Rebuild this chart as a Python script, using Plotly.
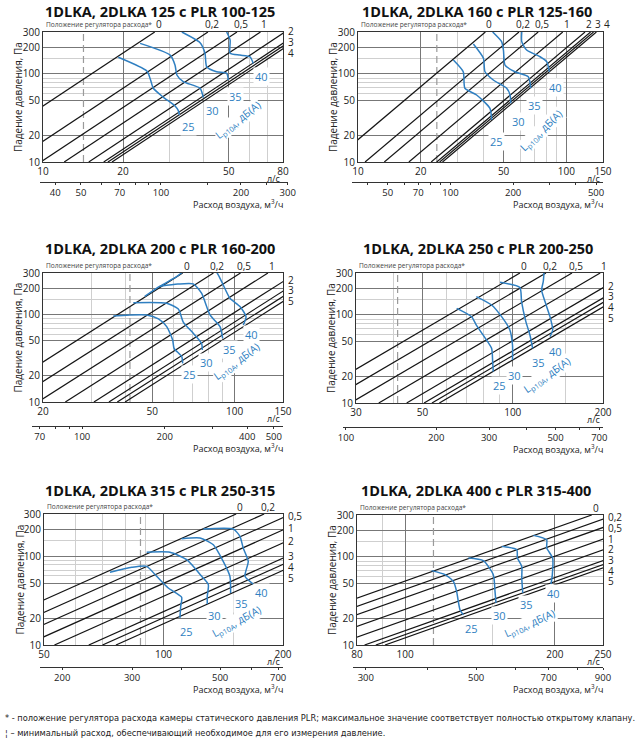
import math
import plotly.graph_objects as go

# ---------------------------------------------------------------- data
titles = ["1DLKA, 2DLKA 125 с PLR 100-125", "1DLKA, 2DLKA 160 с PLR 125-160",
          "1DLKA, 2DLKA 200 с PLR 160-200", "1DLKA, 2DLKA 250 с PLR 200-250",
          "1DLKA, 2DLKA 315 с PLR 250-315", "1DLKA, 2DLKA 400 с PLR 315-400"]
positions = ["0", "0,2", "0,5", "1", "2", "3", "4", "5"]

flow_range_ls = [(10, 80), (10, 150), (20, 150), (30, 200), (50, 200), (80, 250)]
pressure_range = (10, 300)
ls_ticks = [[10, 20, 50, 80], [10, 20, 50, 100, 150], [20, 50, 100, 150],
            [30, 50, 100, 200], [50, 100, 200], [80, 100, 200, 250]]
ls_minor = [[30, 40, 60, 70], [30, 40, 60, 70, 80, 90], [30, 40, 60, 70, 80, 90],
            [40, 60, 70, 80, 90, 150], [60, 70, 80, 90, 150], [90, 150]]
pressure_ticks = [10, 20, 50, 100, 200, 300]
pressure_minor = [60, 70, 80, 90, 150]
m3h_ticks = [[40, 50, 70, 100, 200, 300], [50, 70, 100, 200, 500], [70, 100, 200, 400, 500],
             [100, 200, 300, 500, 700], [200, 300, 500, 700], [300, 500, 700, 900]]
m3h_minor = [[60, 80, 90, 150, 250], [40, 60, 80, 90, 300, 400], [80, 90, 300],
             [400, 600], [400, 600], [400, 600, 800]]
min_flow_ls = [14.2, 23.9, 41.5, 41.3, 87.5, 114]

# flow (l/s) at which each damper-position line passes 100 Pa
q100_p1 = [15.2, 24.1, 31.0, 38.0, 47.0, 53.5, 55.5, 57.5]
q100_p2 = [23.6, 34.2, 42.3, 55.5, 71.0, 75.5, 78.0, 80.5]
q100_p3 = [37.3, 48.3, 60.6, 76.3, 97.0, 110.0, 118.0, 126.0]
q100_p4 = [61.0, 74.5, 91.0, 113.0, 140.0, 160.0, 170.0, 180.0]
q100_p5 = [88.0, 103.5, 121.0, 142.0, 168.0, 205.0, 222.0, 240.0]
q100_p6 = [137.0, 152.5, 170.0, 198.0, 228.0, 262.0, 276.0, 288.0]
q100_all = [q100_p1, q100_p2, q100_p3, q100_p4, q100_p5, q100_p6]
labelled = [[1, 1, 1, 1, 1, 1, 1, 0], [1, 1, 1, 1, 1, 1, 1, 0], [1, 1, 1, 1, 1, 1, 0, 1],
            [1] * 8, [1] * 8, [1] * 8]

levels = [25, 30, 35, 40]
# sound level curves: (flow l/s, pressure Pa)
curves_p1 = {
    25: ([19.2, 24.6, 25.4, 26.0, 28.4, 31.4, 32.3, 32.6], [155, 108, 85.5, 68.8, 54.3, 43.3, 38.3, 34.2]),
    30: ([23.2, 30.1, 31.4, 31.9, 33.7, 39.0, 40.1], [223, 164, 126, 97.4, 81.8, 68.8, 54.0]),
    35: ([33.3, 39.0, 40.7, 41.3, 45.0, 49.1, 49.8], [300, 227, 172, 121, 106, 102, 85.5]),
    40: ([49.1, 50.6, 50.6, 55.1, 60.1, 61.8], [300, 243, 172, 164, 157, 132]),
}
curves_p2 = {
    25: ([28.7, 32.0, 32.6, 37.1, 43.0, 43.8], [144, 106, 68.8, 57.7, 40.7, 30.0]),
    30: ([35.8, 40.0, 40.7, 44.6, 51.7, 53.7, 54.1], [219, 151, 106, 85.5, 68.8, 57.7, 46.4]),
    35: ([44.3, 48.9, 49.9, 50.8, 56.7, 65.7, 67.5], [300, 233, 187, 126, 106, 93.2, 68.8]),
    40: ([61.1, 61.1, 64.5, 74.8, 80.5, 82.9], [300, 233, 187, 157, 138, 106]),
}
curves_p3 = {
    25: ([36.1, 47.7, 52.7, 56.5, 59.4, 60.1, 64.1, 64.6], [96.6, 99.2, 89.3, 72.9, 51.3, 41.2, 33.1, 27.7]),
    30: ([42.7, 56.5, 62.3, 65.0, 70.6, 75.7, 76.2], [137, 135, 116, 81.8, 61.2, 47.0, 39.4]),
    35: ([53.4, 62.0, 70.6, 75.7, 81.3, 88.4, 90.4], [212, 224, 225, 176, 99.2, 72.9, 53.6]),
    40: ([47.0, 53.4, 61.4, 66.0, 84.8, 89.6, 96.1, 104.5, 110.0, 107.5],
         [162, 212, 272, 320, 320, 239, 154, 124, 94.9, 76.2]),
}
curves_p4 = {
    25: ([65.0, 72.9, 75.6, 79.6, 85.0, 85.7, 86.1], [119, 95.7, 76.9, 59.3, 41.8, 29.5, 22.7]),
    30: ([75.6, 85.0, 91.8, 97.8, 99.8, 99.8], [162, 130, 95.7, 67.6, 45.6, 30.8]),
    35: ([90.7, 105.6, 107.0, 110.6, 114.1, 116.5], [235, 205, 142, 84.0, 59.3, 41.8]),
    40: ([127.1, 126.4, 124.8, 128.1, 133.1, 135.9, 133.1], [300, 239, 192, 142, 95.7, 67.6, 56.8]),
}
curves_p5 = {
    25: ([73.3, 83.2, 90.7, 96.1, 102.8, 111.1, 110.5, 110.0], [66.0, 75.2, 77.1, 59.5, 43.9, 34.5, 27.3, 20.2]),
    30: ([90.7, 103.8, 114.4, 124.8, 129.7, 128.9, 128.9], [111, 111, 91.6, 59.5, 47.9, 35.4, 29.0]),
    35: ([111.1, 123.6, 133.5, 141.4, 147.0, 147.6], [158, 161, 135, 87.8, 59.5, 38.6]),
    40: ([126.0, 149.9, 155.8, 158.8, 163.5, 160.4, 168.3], [203, 203, 168, 124, 87.8, 59.5, 48.7]),
}
curves_p6 = {
    25: ([113.0, 120.3, 125.0, 126.9, 127.9, 128.9, 130.9], [70.0, 63.0, 52.8, 40.7, 31.3, 25.2, 22.1]),
    30: ([134.0, 143.6, 150.4, 151.6, 152.3], [97.4, 90.8, 63.0, 40.7, 30.0]),
    35: ([156.4, 167.7, 168.2, 171.6, 171.6, 172.4], [132, 121, 97.4, 78.3, 57.7, 39.0]),
    40: ([181.1, 192.6, 192.6, 198.0, 197.7, 196.5], [176, 157, 127, 97.4, 63.0, 49.3]),
}
curves_all = [curves_p1, curves_p2, curves_p3, curves_p4, curves_p5, curves_p6]

# where the level numbers and the Lp10A caption sit (flow, pressure)
level_label_at = [
    [(35.2, 25), (43.6, 38), (53.2, 56), (66.2, 93)],
    [(46.3, 17.0), (58.9, 28.7), (70.7, 44.4), (89.2, 70.6)],
    [(68.7, 20.4), (79.1, 28.2), (96.1, 39.4), (115.3, 59.6)],
    [(90.0, 15.7), (101.6, 20.5), (121.7, 28.7), (138.4, 38.3)],
    [(114.4, 14.3), (134.8, 21.4), (157.4, 29.0), (176.7, 38.6)],
    [(136.1, 15.6), (155.1, 21.5), (175.6, 28.7), (198.6, 38.0)],
]
lp_label_at = [(54, 30), (76, 23), (102, 29), (130, 20.8), (153.5, 18.2), (178.3, 17.5)]

footnote1 = ("* - положение регулятора расхода камеры статического давления PLR; "
             "максимальное значение соответствует полностью открытому клапану.")
footnote2 = "¦ – минимальный расход, обеспечивающий необходимое для его измерения давление."

# ---------------------------------------------------------------- layout geometry (px)
FW, FH = 643, 750
boxes = [(43, 283, 32, 162), (358, 603, 32, 162), (43, 283, 273, 402),
         (356, 603, 273, 403), (44, 283, 514, 645), (357, 603, 515, 645)]
sec_axes = [(40, 288, 182), (352, 603, 182), (32, 283, 426),
            (343, 603, 427), (40, 283, 667), (353, 603, 667)]
title_pos = [(160, 11), (477, 11), (160, 248), (478, 248), (160, 491), (476, 491)]

BLUE = "#2f7fc1"
TXT = "#222222"
FONT = "Open Sans"


def fx(px):
    return px / FW


def fy(py):
    return 1 - py / FH


lg = math.log10
fig = go.Figure()
annotations = []
layout = dict(width=FW, height=FH, margin=dict(l=0, r=0, t=0, b=0, autoexpand=False),
              paper_bgcolor="white", plot_bgcolor="white", showlegend=False,
              font=dict(family=FONT, size=10, color=TXT))

for k in range(6):
    n = k + 1
    xa = "x" if n == 1 else f"x{n}"
    ya = "y" if n == 1 else f"y{n}"
    x0, x1, y0, y1 = boxes[k]
    qa, qb = flow_range_ls[k]
    pa, pb = pressure_range
    ppd_x = (x1 - x0) / (lg(qb) - lg(qa))
    ppd_y = (y1 - y0) / (lg(pb) - lg(pa))

    layout["xaxis" if n == 1 else f"xaxis{n}"] = dict(
        type="log", domain=[fx(x0), fx(x1)], range=[lg(qa), lg(qb)], anchor=ya,
        showline=True, mirror=True, linecolor="#333", linewidth=1, ticks="",
        tickvals=ls_ticks[k], ticktext=[str(v) for v in ls_ticks[k]],
        showgrid=True, gridcolor="#777", gridwidth=1, zeroline=False,
        minor=dict(tickvals=ls_minor[k], showgrid=True, gridcolor="#cfcfcf", gridwidth=1, ticks=""),
        tickfont=dict(size=10, color=TXT), fixedrange=True, automargin=False)
    layout["yaxis" if n == 1 else f"yaxis{n}"] = dict(
        type="log", domain=[fy(y1), fy(y0)], range=[lg(pa), lg(pb)], anchor=xa,
        showline=True, mirror=True, linecolor="#333", linewidth=1, ticks="",
        tickvals=pressure_ticks, ticktext=[str(v) for v in pressure_ticks],
        showgrid=True, gridcolor="#777", gridwidth=1, zeroline=False,
        minor=dict(tickvals=pressure_minor, showgrid=True, gridcolor="#cfcfcf", gridwidth=1, ticks=""),
        tickfont=dict(size=10, color=TXT), fixedrange=True, automargin=False)

    # secondary m3/h axis on the same scale
    s0, s1, sy = sec_axes[k]
    off = lg(3.6) + lg(qa)
    sm = n + 6
    layout[f"xaxis{sm}"] = dict(
        type="log", domain=[fx(s0), fx(s1)],
        range=[off + (s0 - x0) / ppd_x, off + (s1 - x0) / ppd_x], anchor=f"y{sm}",
        showline=True, linecolor="#333", linewidth=1, ticks="outside", ticklen=2,
        tickcolor="#333", tickvals=m3h_ticks[k], ticktext=[str(v) for v in m3h_ticks[k]],
        minor=dict(tickvals=m3h_minor[k], ticks="outside", ticklen=2, tickcolor="#333", showgrid=False),
        showgrid=False, zeroline=False, tickfont=dict(size=9.5, color=TXT), fixedrange=True,
        automargin=False)
    layout[f"yaxis{sm}"] = dict(domain=[fy(sy), fy(sy) + 0.001], visible=False,
                               range=[0, 1], anchor=f"x{sm}", fixedrange=True)
    fig.add_trace(go.Scatter(x=[], y=[], xaxis=f"x{sm}", yaxis=f"y{sm}", hoverinfo="skip"))

    # minimum-flow dashed line
    fig.add_trace(go.Scatter(x=[min_flow_ls[k], min_flow_ls[k]], y=[pa, pb], mode="lines",
                             line=dict(color="#9a9a9a", width=1.2, dash="7px,4px"),
                             xaxis=xa, yaxis=ya, hoverinfo="skip"))

    # damper position lines (dp ~ q^2)
    tops, rights = [], []
    for i, q100 in enumerate(q100_all[k]):
        qs = [q100 * math.sqrt(pa / 100), q100 * math.sqrt(pb / 100)]
        fig.add_trace(go.Scatter(x=qs, y=[pa, pb], mode="lines",
                                 line=dict(color="#141414", width=1.2),
                                 xaxis=xa, yaxis=ya, hoverinfo="skip"))
        if not labelled[k][i]:
            continue
        if qs[1] <= qb * 1.001:
            # pixel x where the line leaves the top edge
            tops.append([x0 + ppd_x * (lg(qs[1]) - lg(qa)) + 4, positions[i]])
        else:
            dp_end = 100 * (qb / q100) ** 2
            rights.append([y1 - ppd_y * (lg(dp_end) - lg(pa)) - 2, positions[i]])

    tops.sort()
    for j in range(1, len(tops)):
        tops[j][0] = max(tops[j][0], tops[j - 1][0] + 9)
    for px, t in tops:
        annotations.append(dict(x=fx(px), xref="paper", y=fy(y0 - 7.5), yref="paper", text=t,
                                showarrow=False, xanchor="center", yanchor="middle",
                                font=dict(size=10, color=TXT)))
    rights.sort()
    for j in range(1, len(rights)):
        rights[j][0] = max(rights[j][0], rights[j - 1][0] + 10.7)
    for py, t in rights:
        annotations.append(dict(x=fx(x1 + 3), xref="paper", y=fy(py), yref="paper", text=t,
                                showarrow=False, xanchor="left", yanchor="middle",
                                font=dict(size=10, color=TXT)))

    # sound level curves
    for lev in levels:
        qs, ps = curves_all[k][lev]
        fig.add_trace(go.Scatter(x=qs, y=ps, mode="lines",
                                 line=dict(color=BLUE, width=1.5, shape="spline", smoothing=0.6),
                                 xaxis=xa, yaxis=ya, hoverinfo="skip"))
    for lev, (lq, lp) in zip(levels, level_label_at[k]):
        annotations.append(dict(x=lg(lq), xref=xa, y=lg(lp), yref=ya, text=str(lev),
                                showarrow=False, bgcolor="white", borderpad=1,
                                font=dict(size=11, color=BLUE)))
    angle = math.degrees(math.atan(2 * ppd_y / ppd_x)) + 4
    lq, lp = lp_label_at[k]
    annotations.append(dict(x=lg(lq), xref=xa, y=lg(lp), yref=ya,
                            text="L<sub>p10A</sub>, дБ(А)", textangle=-angle,
                            showarrow=False, bgcolor="white", borderpad=0,
                            font=dict(size=10.5, color=BLUE)))

    # panel texts
    tx, ty = title_pos[k]
    annotations.append(dict(x=fx(tx), y=fy(ty), xref="paper", yref="paper",
                            text=f"<b>{titles[k]}</b>", showarrow=False,
                            xanchor="center", yanchor="middle", borderpad=0,
                            font=dict(size=14.5, color="#111", family=FONT)))
    annotations.append(dict(x=fx(x0 + 1), y=fy(y0 - 7.5), xref="paper", yref="paper",
                            text="Положение регулятора расхода*", showarrow=False,
                            xanchor="left", yanchor="middle",
                            font=dict(size=6.6, color="#444")))
    annotations.append(dict(x=fx(x0 - 25), y=fy((y0 + y1) / 2), xref="paper", yref="paper",
                            text="Падение давления, Па", textangle=-90, showarrow=False,
                            xanchor="center", yanchor="middle", font=dict(size=10, color=TXT)))
    annotations.append(dict(x=fx(x1 - 1), y=fy(y1 + 16), xref="paper", yref="paper",
                            text="л/с", showarrow=False, xanchor="right", yanchor="middle",
                            font=dict(size=9, color=TXT)))
    annotations.append(dict(x=fx(x1 + 2), y=fy(sy + 22), xref="paper", yref="paper",
                            text="Расход воздуха, м<sup>3</sup>/ч", showarrow=False,
                            xanchor="right", yanchor="middle", font=dict(size=9, color=TXT)))

annotations.append(dict(x=fx(3), y=fy(718), xref="paper", yref="paper", text=footnote1,
                        showarrow=False, xanchor="left", yanchor="middle",
                        font=dict(size=8.25, color="#222", family="DejaVu Sans")))
annotations.append(dict(x=fx(3), y=fy(733), xref="paper", yref="paper", text=footnote2,
                        showarrow=False, xanchor="left", yanchor="middle",
                        font=dict(size=8.25, color="#222", family="DejaVu Sans")))

layout["annotations"] = annotations
fig.update_layout(**layout)
fig.write_html(
    "out.html",
    config={"displayModeBar": False},
    post_script="document.body.style.margin='0';document.body.style.padding='0';"
                "document.documentElement.style.overflow='hidden';")
